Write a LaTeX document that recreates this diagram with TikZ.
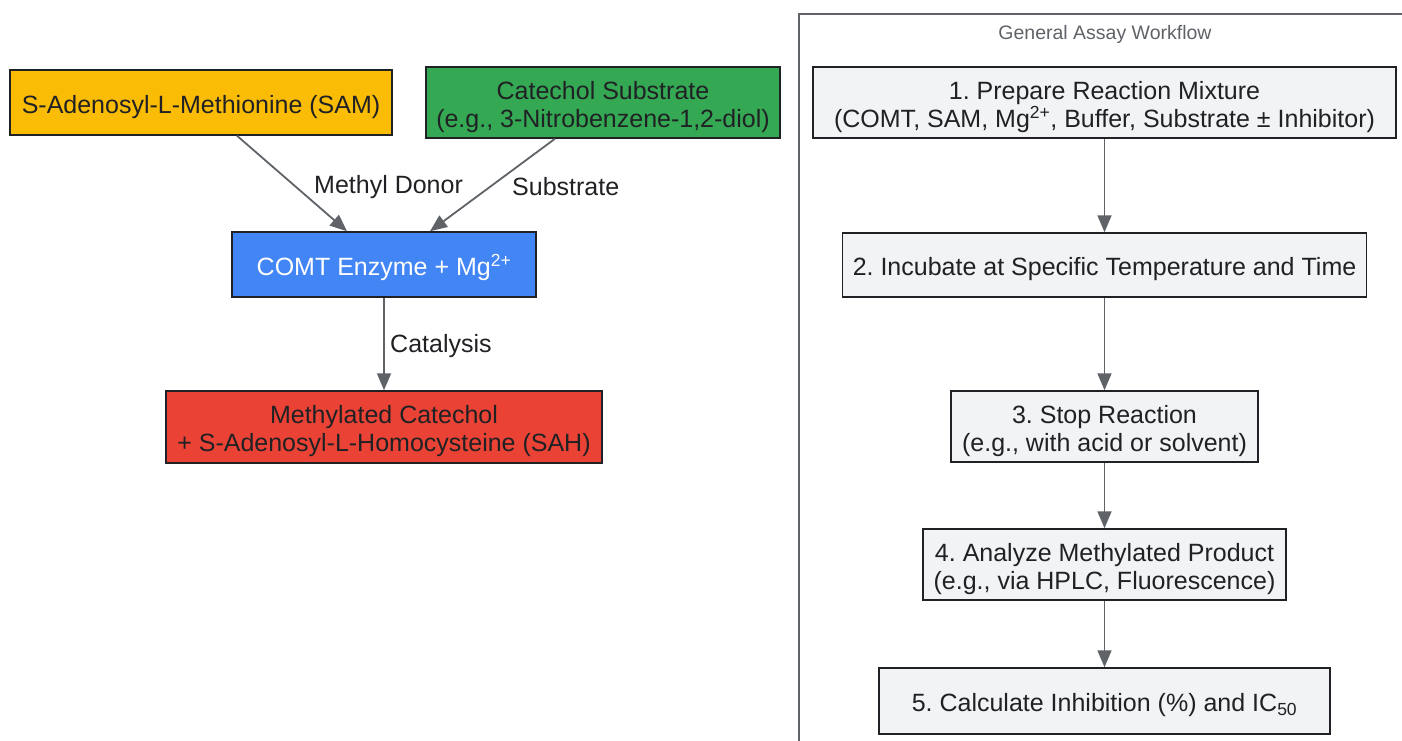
\documentclass[tikz,border=0pt]{standalone}
\usepackage{fontspec}
\setmainfont{Liberation Sans}
\usetikzlibrary{calc,positioning,shapes}
\usetikzlibrary{arrows.meta}
\frenchspacing
\definecolor{samyellow}{HTML}{FBBC05}
\definecolor{catgreen}{HTML}{34A853}
\definecolor{comtblue}{HTML}{4285F4}
\definecolor{prodred}{HTML}{EA4335}
\definecolor{stepgray}{HTML}{F1F3F4}
\definecolor{inkdark}{HTML}{202124}
\definecolor{edgegray}{HTML}{5F6368}
\tikzset{>={Triangle[width=14pt,length=17pt]}}
\tikzset{block/.style = {draw=inkdark, line width=1.5pt, rectangle, text=inkdark,
                  align=center, inner sep=0pt, font=\fontsize{25}{28}\selectfont,
                  execute at begin node={\rule{0pt}{27pt}}},
        twoline/.style = {execute at begin node={\rule{0pt}{55pt}}},
        flow/.style = {->, draw=edgegray, fill=edgegray, line width=1.8pt},
        lbl/.style = {text=inkdark, inner sep=0pt, font=\fontsize{25}{28}\selectfont}
    }

\begin{document}
\begin{tikzpicture}[x=1pt,y=-1pt]
          \tikzstyle{stepbox} = [block, fill=stepgray]
          \useasboundingbox (0,0) rectangle (1402,741);

          % reaction
          \node[block, fill=samyellow, minimum width=382pt, minimum height=65pt] (sam) at (201,102.5) {S-Adenosyl-L-Methionine (SAM)};
          \node[block, twoline, fill=catgreen, minimum width=354pt, minimum height=71pt] (cat) at (603,102.5) {Catechol Substrate\\(e.g., 3-Nitrobenzene-1,2-diol)};
          \node[block, fill=comtblue, text=white, minimum width=304pt, minimum height=65pt] (comt) at (384,264.5) {COMT Enzyme + Mg\textsuperscript{2+}};
          \node[block, twoline, fill=prodred, minimum width=436pt, minimum height=72pt] (prod) at (384,427) {Methylated Catechol\\+ S-Adenosyl-L-Homocysteine (SAH)};

          \draw[flow] ([xshift=36pt]sam.south) -- ([xshift=-37pt]comt.north);
          \draw[flow] ([xshift=-48pt]cat.south) -- ([xshift=46pt]comt.north);
          \draw[flow] (comt) -- (prod);
          \node[lbl, anchor=west] (donor) at (314,187) {Methyl Donor};
          \node[lbl, anchor=west] (subs) at (512,187) {Substrate};
          \node[lbl, anchor=west] (catal) at (390,346) {Catalysis};

          % workflow
          \draw[edgegray, line width=1.5pt] (1402,14) -- (799,14) -- (799,741);
          \node[text=edgegray, font=\fontsize{19.5}{22}\selectfont] (title) at (1105,34) {General Assay Workflow};
          \node[stepbox, twoline, minimum width=583pt, minimum height=71pt] (s1) at (1104.5,102.5) {1. Prepare Reaction Mixture\\(COMT, SAM, Mg\textsuperscript{2+}, Buffer, Substrate ± Inhibitor)};
          \node[stepbox, minimum width=524pt, minimum height=64pt] (s2) at (1104.5,265) {2. Incubate at Specific Temperature and Time};
          \node[stepbox, twoline, minimum width=307pt, minimum height=71pt] (s3) at (1104.5,426.5) {3. Stop Reaction\\(e.g., with acid or solvent)};
          \node[stepbox, twoline, minimum width=363pt, minimum height=71pt] (s4) at (1104.5,564.5) {4. Analyze Methylated Product\\(e.g., via HPLC, Fluorescence)};
          \node[stepbox, minimum width=451pt, minimum height=66pt] (s5) at (1104.5,701) {5. Calculate Inhibition (\%) and IC\textsubscript{50}};
          \foreach \a/\b in {s1/s2,s2/s3,s3/s4,s4/s5} {
            \draw[flow] (\a) -- (\b);
          }
        \end{tikzpicture}
\end{document}
